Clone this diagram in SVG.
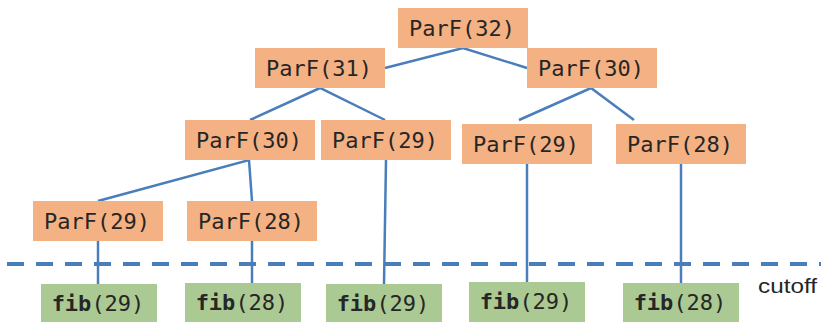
<svg xmlns="http://www.w3.org/2000/svg" width="821" height="322" viewBox="0 0 821 322">
  <style>
    .par rect { fill: #F4B183; }
    .fib rect { fill: #ABC993; }
    .lbl { font-family: "DejaVu Sans Mono", "Liberation Mono", monospace; font-size: 22px; fill: #262626; text-anchor: middle; }
    .b { font-weight: bold; }
    .edge { stroke: #4A7EBB; stroke-width: 2.5; fill: none; }
    .cut { stroke: #4A7EBB; stroke-width: 4; stroke-dasharray: 17 12; fill: none; }
    .note { font-family: "Liberation Sans", Arial, sans-serif; font-size: 20px; fill: #262626; }
  </style>

  <!-- tree edges -->
  <g id="connectors">
    <polyline class="edge" points="385,68 463,48 527,68"/>
    <polyline class="edge" points="250,120 320,88 385,120"/>
    <polyline class="edge" points="519,120 591,88 634,120"/>
    <polyline class="edge" points="98,201 249,160 252,201"/>
    <line class="edge" x1="98" y1="241" x2="98" y2="284"/>
    <line class="edge" x1="252" y1="241" x2="252" y2="283"/>
    <line class="edge" x1="386" y1="160" x2="384" y2="284"/>
    <line class="edge" x1="527" y1="163" x2="527" y2="282"/>
    <line class="edge" x1="681" y1="163" x2="681" y2="283"/>
  </g>

  <!-- cutoff threshold -->
  <g id="cutoff">
    <line class="cut" x1="7" y1="264" x2="821" y2="264"/>
    <text class="note" x="758" y="292.5" textLength="59" lengthAdjust="spacingAndGlyphs">cutoff</text>
  </g>

  <!-- parallel tasks -->
  <g id="parf32" class="par"><rect x="398" y="8" width="130" height="40"/><text class="lbl" x="462" y="36">ParF(32)</text></g>
  <g id="parf31" class="par"><rect x="255" y="48" width="130" height="40"/><text class="lbl" x="319" y="76">ParF(31)</text></g>
  <g id="parf30r" class="par"><rect x="527" y="48" width="130" height="40"/><text class="lbl" x="591" y="76">ParF(30)</text></g>
  <g id="parf30l" class="par"><rect x="185" y="120" width="130" height="40"/><text class="lbl" x="249" y="148">ParF(30)</text></g>
  <g id="parf29m" class="par"><rect x="321" y="120" width="130" height="40"/><text class="lbl" x="385" y="148">ParF(29)</text></g>
  <g id="parf29r" class="par"><rect x="462" y="124" width="130" height="40"/><text class="lbl" x="526" y="152">ParF(29)</text></g>
  <g id="parf28r" class="par"><rect x="616" y="124" width="130" height="40"/><text class="lbl" x="680" y="152">ParF(28)</text></g>
  <g id="parf29l" class="par"><rect x="33" y="201" width="130" height="40"/><text class="lbl" x="97" y="229">ParF(29)</text></g>
  <g id="parf28l" class="par"><rect x="187" y="201" width="130" height="40"/><text class="lbl" x="251" y="229">ParF(28)</text></g>

  <!-- sequential leaves -->
  <g id="fib1" class="fib"><rect x="41" y="284" width="116" height="40"/><text class="lbl" x="98" y="311"><tspan class="b">fib</tspan>(29)</text></g>
  <g id="fib2" class="fib"><rect x="185" y="283" width="116" height="40"/><text class="lbl" x="242" y="310"><tspan class="b">fib</tspan>(28)</text></g>
  <g id="fib3" class="fib"><rect x="326" y="284" width="116" height="40"/><text class="lbl" x="383" y="311"><tspan class="b">fib</tspan>(29)</text></g>
  <g id="fib4" class="fib"><rect x="469" y="282" width="116" height="40"/><text class="lbl" x="526" y="309"><tspan class="b">fib</tspan>(29)</text></g>
  <g id="fib5" class="fib"><rect x="623" y="283" width="116" height="40"/><text class="lbl" x="680" y="310"><tspan class="b">fib</tspan>(28)</text></g>
</svg>
